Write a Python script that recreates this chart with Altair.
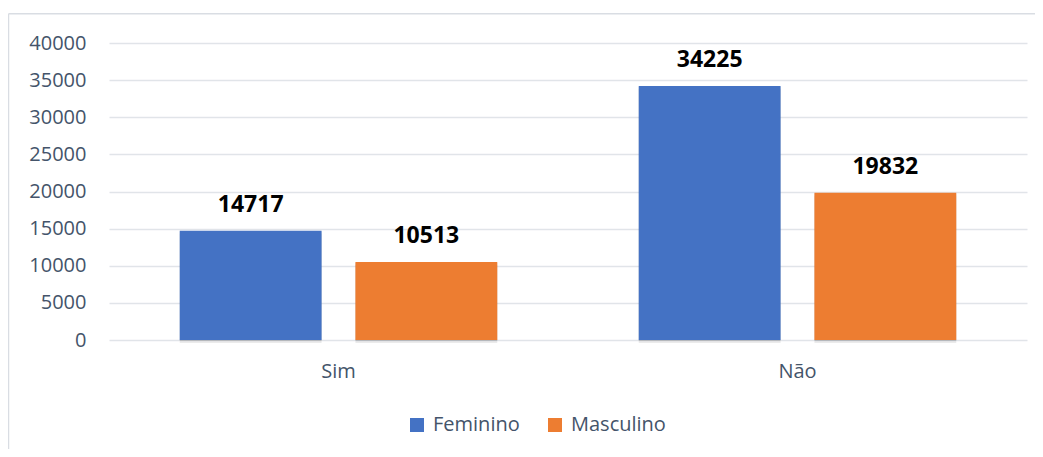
import altair as alt
import pandas as pd

categorias = ["Sim", "Não"]
series = ["Feminino", "Masculino"]
feminino = [14717, 34225]
masculino = [10513, 19832]
cores = ["#4472C4", "#ED7D31"]
y_ticks = [0, 5000, 10000, 15000, 20000, 25000, 30000, 35000, 40000]

rows = []
for i, c in enumerate(categorias):
    rows.append({"Categoria": c, "Sexo": series[0], "Valor": feminino[i]})
    rows.append({"Categoria": c, "Sexo": series[1], "Valor": masculino[i]})
df = pd.DataFrame(rows)

FONT = "Open Sans"
TXT = "#44546A"
BORDER = "#D9DDE3"

x_enc = alt.X("Categoria:N", sort=categorias,
              scale=alt.Scale(paddingInner=0, paddingOuter=0),
              axis=alt.Axis(title=None, labelAngle=0, domain=False, ticks=False,
                            labelPadding=21, labelFontSize=20, labelColor=TXT,
                            labelFont=FONT))
xo_enc = alt.XOffset("Sexo:N", sort=series,
                     scale=alt.Scale(paddingInner=0.1927, paddingOuter=0.4026))
y_enc = alt.Y("Valor:Q",
              scale=alt.Scale(domain=[0, 40000], nice=False),
              axis=alt.Axis(title=None, values=y_ticks, format="d", domain=False, ticks=False,
                            labelPadding=23, labelFontSize=20, labelColor=TXT,
                            labelFont=FONT, gridColor="#E1E4E9", gridWidth=1.3))

base = alt.Chart(df).encode(x=x_enc, xOffset=xo_enc, y=y_enc)

shadow1 = base.mark_bar(color="#000000", opacity=0.12, xOffset=2, yOffset=1)
shadow2 = base.mark_bar(color="#000000", opacity=0.08, xOffset=4, yOffset=3)

bars = base.mark_bar().encode(
    color=alt.Color("Sexo:N", sort=series,
                    scale=alt.Scale(domain=series, range=cores),
                    legend=alt.Legend(title=None, orient="none", direction="horizontal",
                                      legendX=298, legendY=372, padding=0,
                                      symbolType="square", symbolSize=196,
                                      symbolStrokeWidth=0, labelOffset=6,
                                      columnPadding=25, labelFontSize=20,
                                      labelColor=TXT, labelFont=FONT))
)

labels = base.mark_text(fontSize=23, fontWeight="bold", font=FONT, color="#000000",
                        baseline="alphabetic", dy=-19).encode(text=alt.Text("Valor:Q", format="d"))

one = pd.DataFrame({"a": [0]})
border_top = alt.Chart(one).mark_rule(color=BORDER, strokeWidth=1.5).encode(
    x=alt.value(-100.5), x2=alt.value(960), y=alt.value(-29.3))
border_left = alt.Chart(one).mark_rule(color=BORDER, strokeWidth=1.5).encode(
    x=alt.value(-100.5), y=alt.value(-29.3), y2=alt.value(420))

chart = alt.layer(border_top, border_left, shadow2, shadow1, bars, labels).properties(
    width=918, height=297,
    padding={"left": 101, "top": 35, "right": 8, "bottom": 109},
    autosize=alt.AutoSizeParams(type="none"),
).configure_view(stroke=None)

chart.save("out.html", embed_options={"renderer": "svg", "actions": False})
